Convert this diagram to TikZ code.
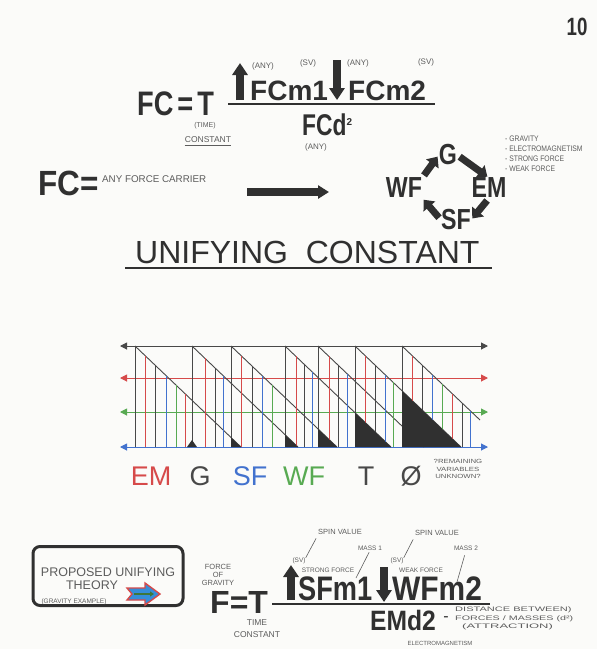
\documentclass[tikz,border=0pt]{standalone}
\usepackage{fontspec}
\setmainfont{Liberation Sans}
\usepackage{graphicx}
\usepackage{tikz}
\usetikzlibrary{arrows.meta}
\definecolor{ink}{RGB}{48,48,48}
\definecolor{pencil}{RGB}{92,92,92}
\definecolor{paper}{RGB}{251,251,249}
\definecolor{cred}{RGB}{214,74,74}
\definecolor{cgreen}{RGB}{88,170,82}
\definecolor{cblue}{RGB}{66,114,206}
\definecolor{chartk}{RGB}{72,72,72}
\newcommand{\sx}[2]{\scalebox{#1}[1]{#2}}
\newcommand{\fsz}[1]{\fontsize{#1}{#1}\selectfont}

\begin{document}
\begin{tikzpicture}[x=1pt,y=1pt,>={Triangle[length=7pt,width=7pt]},
    heavy/.style={inner sep=0pt,text=ink,font=\fsz{#1}\bfseries},
    plain/.style={inner sep=0pt,text=ink,font=\fsz{#1}},
    note/.style={inner sep=0pt,text=pencil,font=\fsz{#1}},
    spin/.style={ink,line width=8pt,-{Triangle[length=12pt,width=15pt]}},
    cyc/.style={ink,line width=7pt,-{Triangle[length=9pt,width=15pt]},shorten <=3pt,shorten >=2pt},
    leader/.style={pencil,line width=0.6pt},
    axis/.style={<->,line width=1pt},
    bar/.style={ink,line width=2.5pt}]
    \fill[paper] (0,0) rectangle (597,-649);
    \useasboundingbox (0,0) rectangle (597,-649);
    \node[heavy=25] (page) at (577,-27) {\sx{0.75}{10}};
    % top formula
    \node[heavy=34,anchor=base west] (fc) at (137,-115) {\sx{0.8}{FC\kern5pt=\kern5pt T}};
    \draw[spin] (240,-100) -- (240,-63);
    \node[heavy=28,anchor=base west] (fcm1) at (250,-100) {FCm1};
    \draw[spin] (337,-60) -- (337,-100);
    \node[heavy=28,anchor=base west] (fcm2) at (348,-100) {FCm2};
    \draw[bar] (228,-104) -- (435,-104);
    \node[heavy=30,anchor=base west] (fcd) at (302,-135) {\sx{0.76}{FCd}\raisebox{10pt}{\fsz{10}2}};
    \node[note=8] (any1) at (263,-66) {(ANY)};
    \node[note=8] (sv1) at (308,-63) {(SV)};
    \node[note=8] (any2) at (358,-63) {(ANY)};
    \node[note=8] (sv2) at (426,-62) {(SV)};
    \node[note=8] (any3) at (316,-147) {(ANY)};
    \node[note=7] (time) at (205,-126) {(TIME)};
    \node[note=8.5] (const) at (208,-140) {CONSTANT};
    \draw[leader] ([yshift=-2pt]const.south west) -- ([yshift=-2pt]const.south east);
    % carriers
    \node[heavy=35,anchor=base west] (fceq) at (38,-195) {\sx{0.9}{FC=}};
    \node[note=9.8,anchor=base west] (carrier) at (102,-182) {ANY FORCE CARRIER};
    \coordinate (arrowtail) at (247,-192);
    \coordinate (arrowhead) at (329,-192);
    \draw[ink,line width=8pt,-{Triangle[length=11pt,width=13pt]}] (arrowtail) -- (arrowhead);
    \node[heavy=29] (g) at (448,-155) {\sx{0.8}{G}};
    \node[heavy=29] (em) at (489,-188) {\sx{0.8}{EM}};
    \node[heavy=29] (sf) at (456,-220) {\sx{0.8}{SF}};
    \node[heavy=29] (wf) at (404,-188) {\sx{0.8}{WF}};
    \draw[cyc] (wf.north east) -- (g.west);
    \draw[cyc] (g.east) -- (em.north);
    \draw[cyc] (em.south) -- (sf.east);
    \draw[cyc] (sf.west) -- (wf.south east);
    \foreach \t [count=\i] in {GRAVITY,ELECTROMAGNETISM,STRONG FORCE,WEAK FORCE}
      \node[note=8,anchor=base west] (force\i) at (505,{-131-10*\i}) {\sx{0.85}{- \t}};
    \node[plain=32,anchor=base west] (unify) at (135,-263) {UNIFYING\ \ CONSTANT};
    \draw[bar] (125,-268) -- (492,-268);
    % chart
    \foreach \y/\c in {346/chartk,378/cred,412/cgreen,447/cblue}
      \draw[axis,\c] (120,-\y) -- (488,-\y);
    \foreach \v in {135,192,231,285,318,355,402}
      \draw[chartk,line width=0.9pt] (\v,-346) -- (\v,-447);
    \foreach \v in {135,192,231,285,318,355}
      \draw[chartk,line width=0.9pt] (\v,-346) -- (\v+106,-447);
    \draw[chartk,line width=0.9pt] (402,-346) -- (480,-420);
    \foreach \x/\v/\c in {145/135/cred,155/135/chartk,166/135/cblue,176/135/cgreen,185/135/cred,
        205/192/cred,215/192/chartk,223/192/cblue,
        241/231/cred,252/231/chartk,262/231/cblue,272/231/cgreen,
        296/285/cred,304/285/chartk,312/285/cblue,
        329/318/cred,338/318/chartk,347/318/cblue,
        365/355/cred,375/355/chartk,385/355/cblue,393/355/cgreen,
        412/402/cred,422/402/chartk,432/402/cblue,442/402/cgreen,452/402/cred,462/402/chartk,470/402/cblue}
      \draw[\c,line width=0.9pt] (\x,{-346-0.953*(\x-\v)}) -- (\x,-447);
    \foreach \v/\w in {135/231,192/285,231/318,285/355,355/402}
      \fill[ink] (\w,{-346-0.953*(\w-\v)}) -- (\v+106,-447) -- (\w,-447) -- cycle;
    \fill[ink] (187,-447) -- (192,-440) -- (197,-447) -- cycle;
    \foreach \t/\c/\x [count=\i] in {EM/cred/151,G/chartk/200,SF/cblue/250,WF/cgreen/304,T/chartk/366,Ø/chartk/411}
      \node[plain=27,text=\c,anchor=base] (key\i) at (\x,-485) {\t};
    \node[note=6,align=center,font=\fontsize{6}{7.5}\selectfont] (unknown) at (458,-469)
      {\sx{1.3}{?REMAINING}\\\sx{1.3}{VARIABLES}\\\sx{1.3}{UNKNOWN?}};
    % proposed theory
    \node[draw=ink,line width=3pt,rounded corners=7pt,minimum width=150pt,minimum height=59pt,inner sep=0pt] (theorybox) at (108,-576) {};
    \node[note=12.5] (proposed) at (108,-572) {PROPOSED UNIFYING};
    \node[note=12.5] (theory) at (92,-585) {THEORY};
    \node[note=6.5] (example) at (74,-602) {(GRAVITY EXAMPLE)};
    \filldraw[fill=cblue!80!cyan,draw=cred,line width=1.4pt] (127,-588) -- (145,-588) -- (145,-583) -- (160,-594)
      -- (145,-605) -- (145,-600) -- (127,-600) -- (132,-594) -- cycle;
    \draw[cgreen!70!black,line width=1.2pt,-{Triangle[length=4pt,width=5pt]}] (134,-594) -- (154,-594);
    \node[note=7.5,align=center,font=\fontsize{7.5}{8}\selectfont] (gravity) at (218,-575) {FORCE\\OF\\GRAVITY};
    \node[heavy=32,anchor=base west] (ft) at (210,-613) {F=T};
    \node[note=8.5,align=center,font=\fontsize{8.5}{12}\selectfont] (timeconst) at (257,-629) {TIME\\CONSTANT};
    \draw[spin] (291,-600) -- (291,-565);
    \node[heavy=34,anchor=base west] (sfm1) at (298,-600) {\sx{0.8}{SFm1}};
    \draw[spin] (384,-567) -- (384,-602);
    \node[heavy=34,anchor=base west] (wfm2) at (392,-600) {\sx{0.88}{WFm2}};
    \draw[bar] (272,-604) -- (490,-604);
    \node[heavy=28,anchor=base west] (emd2) at (370,-630) {\sx{0.88}{EMd2}};
    \node[plain=16] (dash) at (446,-619) {-};
    \node[note=6.5,align=left,font=\fontsize{6.5}{8.5}\selectfont,anchor=north west] (distance) at (455,-607)
      {\sx{1.7}{DISTANCE BETWEEN)}\\\sx{1.65}{FORCES / MASSES (d²)}\\\hspace*{7pt}\sx{2}{(ATTRACTION)}};
    \node[note=6] (emname) at (440,-643) {ELECTROMAGNETISM};
    \node[note=7.5] (spin1) at (340,-532) {SPIN VALUE};
    \node[note=6.5] (mass1) at (370,-548) {MASS 1};
    \node[note=6.5] (sv3) at (299,-561) {(SV)};
    \node[note=6.5] (strong) at (328,-570) {STRONG FORCE};
    \node[note=7.5] (spin2) at (437,-533) {SPIN VALUE};
    \node[note=6.5] (mass2) at (466,-548) {MASS 2};
    \node[note=6.5] (sv4) at (397,-561) {(SV)};
    \node[note=6.5] (weak) at (421,-570) {WEAK FORCE};
    \coordinate (m1foot) at (356,-578);
    \coordinate (m2foot) at (457,-582);
    \draw[leader,shorten >=4pt] (sv3.north east) -- (spin1.south west);
    \draw[leader,shorten >=2pt] (m1foot) -- (mass1.south);
    \draw[leader,shorten >=4pt] (sv4.north east) -- (spin2.south west);
    \draw[leader,shorten >=5pt] (m2foot) -- (mass2.south);
  \end{tikzpicture}
\end{document}
